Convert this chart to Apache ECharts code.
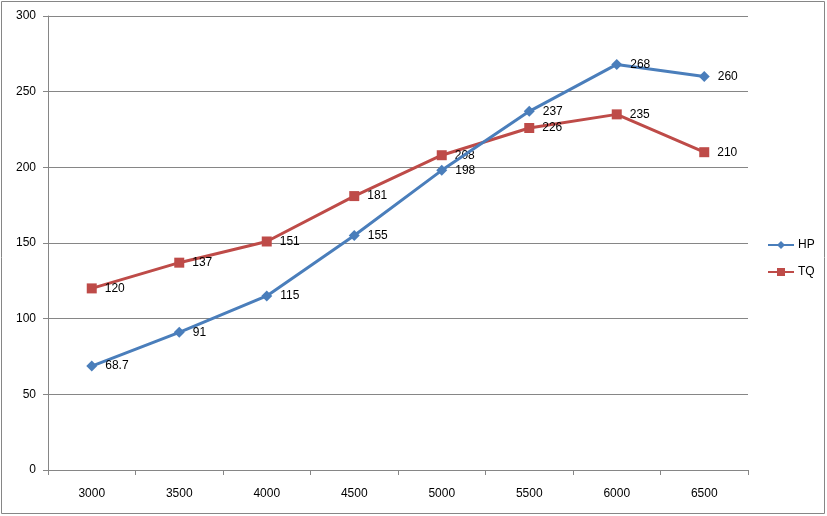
<!DOCTYPE html>
<html><head><meta charset="utf-8">
<script src="https://cdn.jsdelivr.net/npm/echarts@6/dist/echarts.min.js"></script>
<style>html,body{margin:0;padding:0;background:#fff}#c{width:827px;height:516px}</style>
</head><body><div id="c"></div>
<script>
const categories = ['3000','3500','4000','4500','5000','5500','6000','6500'];
const hpValues = [68.7, 91, 115, 155, 198, 237, 268, 260];
const tqValues = [120, 137, 151, 181, 208, 226, 235, 210];
const seriesNames = ['HP','TQ'];

const chart = echarts.init(document.getElementById('c'));
const font = 'Liberation Sans, Arial, sans-serif';
const lbl = {show:true, position:'right', distance:8, color:'#000', fontSize:12, fontFamily:font};
chart.setOption({
  animation:false,
  backgroundColor:'#fff',
  graphic:[{type:'rect', shape:{x:1.5,y:1.5,width:823,height:512}, style:{fill:'none', stroke:'#868686', lineWidth:1}, silent:true}],
  grid:{left:48, top:16, width:700, height:454, containLabel:false},
  legend:{orient:'vertical', left:762, top:234, itemWidth:26, itemHeight:10, itemGap:15,
    textStyle:{fontSize:12, fontFamily:font, color:'#000', padding:[0,0,0,-1]},
    data:['HP','TQ']},
  xAxis:{type:'category', data:categories, boundaryGap:true,
    axisLine:{lineStyle:{color:'#868686'}},
    axisTick:{show:true, alignWithLabel:false, length:5, inside:false, lineStyle:{color:'#868686'}},
    axisLabel:{color:'#000', fontSize:12, fontFamily:font, margin:18}},
  yAxis:{type:'value', min:0, max:300, interval:50,
    axisLine:{show:true, lineStyle:{color:'#868686'}},
    axisTick:{show:true, length:5, lineStyle:{color:'#868686'}},
    splitLine:{lineStyle:{color:'#868686'}},
    axisLabel:{color:'#000', fontSize:12, fontFamily:font, margin:12}},
  series:[
    {name:seriesNames[0], type:'line', data:hpValues, symbol:'diamond', symbolSize:11,
     color:'#4A7EBB', lineStyle:{width:3, color:'#4A7EBB'}, itemStyle:{color:'#4A7EBB'}, label:lbl, z:3},
    {name:seriesNames[1], type:'line', data:tqValues, symbol:'rect', symbolSize:10,
     color:'#BE4B48', lineStyle:{width:3, color:'#BE4B48'}, itemStyle:{color:'#BE4B48'}, label:lbl, z:2}
  ]
});
</script></body></html>
